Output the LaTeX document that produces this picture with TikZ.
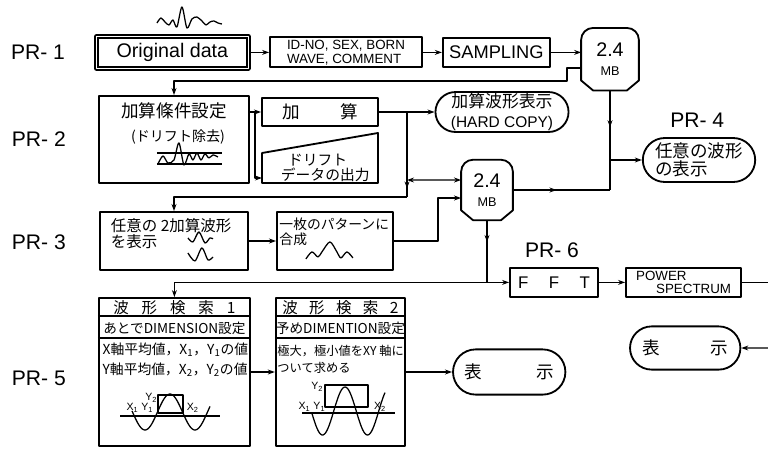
\documentclass[tikz,border=0pt]{standalone}
\usepackage{fontspec}
\setmainfont{Liberation Sans}
\newfontfamily\jp{Noto Sans CJK JP}
\usetikzlibrary{arrows.meta,shapes.misc,decorations.markings}

\newcommand\fsz[1]{\fontsize{#1}{#1}\selectfont}
\newcommand\diskshape[1]{%
    \draw[line width=1.3pt] ([yshift=0.25cm]#1.south west) -- ([yshift=-0.3cm]#1.north west)
        to[out=90,in=180] ([xshift=0.3cm]#1.north west) -- ([xshift=-0.3cm]#1.north east)
        to[out=0,in=90] ([yshift=-0.3cm]#1.north east) -- ([yshift=0.25cm]#1.south east)
        -- ([xshift=-0.3cm]#1.south east) -- ([xshift=0.3cm]#1.south west) -- cycle;}

\begin{document}
\begin{tikzpicture}[
        line join=round,
        box/.style={draw, line width=1.3pt, inner sep=1pt, align=center},
        termbox/.style={box, rounded rectangle, inner xsep=2pt},
        diskbox/.style={inner sep=0pt, align=center},
        prlabel/.style={font=\fsz{15}},
        smalllabel/.style={font=\fsz{7.5}, inner sep=0pt},
        line/.style={draw, line width=0.9pt},
        arrowline/.style={line, -{Stealth[length=5pt,width=3.5pt]}},
        bothline/.style={line, {Stealth[length=5pt,width=3.5pt]}-{Stealth[length=5pt,width=3.5pt]}},
        midarrow/.style={line, postaction={decorate},
            decoration={markings, mark=at position #1 with {\arrow{Stealth[length=5pt,width=3.5pt]}}}},
        midarrow/.default=0.5,
        wave/.style={line width=0.9pt, x=0.025cm, y=-0.025cm}
    ]
        \useasboundingbox (0,0) rectangle (19.2,-11.2);

        \node[prlabel] (pr1) at (0.95,-1.31) {PR- 1};
        \node[prlabel] (pr2) at (0.97,-3.48) {PR- 2};
        \node[prlabel] (pr3) at (0.97,-6.05) {PR- 3};
        \node[prlabel] (pr5) at (0.97,-9.45) {PR- 5};
        \node[prlabel] (pr4) at (17.43,-3.0) {PR- 4};
        \node[prlabel] (pr6) at (13.8,-6.25) {PR- 6};

        \node[box, double, double distance=1.2pt, line width=0.9pt, minimum width=3.8cm, minimum height=0.8cm, font=\fsz{14}] (orig) at (4.31,-1.31) {Original data};
        \draw[wave] plot[smooth] coordinates {(157,23) (161,18) (165,22) (169,25) (173,20) (177,27) (182,7) (187,28) (192,19) (197,17) (202,21) (206,25) (210,22) (214,21) (218,23) (222,24)};
        \node[box, minimum width=3.8cm, minimum height=0.75cm, align=left, font=\fontsize{9.5}{10}\selectfont] (idinfo) at (8.65,-1.31) {ID-NO, SEX, BORN\\WAVE, COMMENT};
        \node[box, minimum width=2.68cm, minimum height=0.73cm, font=\fsz{13}] (sampling) at (12.41,-1.31) {SAMPLING};
        \node[diskbox, minimum width=1.43cm, minimum height=1.55cm] (disk) at (15.25,-1.48) {{\fsz{14}2.4}\\[2pt]{\fsz{9}MB}};
        \diskshape{disk}

        \node[box, minimum width=3.75cm, minimum height=2.175cm] (cond) at (4.35,-3.4875) {};
        \node[font=\jp\fsz{12.5}] (condtitle) at (4.35,-2.78) {加算條件設定};
        \node[font=\jp\fsz{10}] (condsub) at (4.45,-3.42) {(ドリフト除去)};
        \draw[wave] (157,153) -- (222,153) (157,164) -- (222,164);
        \draw[wave] plot[smooth] coordinates {(158,164) (163,156) (168,163) (174,160) (179,143) (184,165) (189,154) (193,160) (197,153) (201,160) (205,154) (209,158) (213,155) (218,157)};

        \node[box, minimum width=2.9cm, minimum height=0.68cm, font=\jp\fsz{12.5}] (add) at (8.0,-2.8) {\makebox[1.9cm][s]{加 算}};
        \draw[line width=1.3pt] (6.55,-3.825) -- (9.45,-3.325) -- (9.45,-4.575) -- (6.55,-4.575) -- cycle;
        \node[anchor=west, align=left, font=\jp\fontsize{10.5}{11}\selectfont] (drift) at (6.9,-4.2) {\hspace{5pt}ドリフト\\データの出力};
        \node[termbox, minimum width=3.25cm, minimum height=0.95cm, font=\jp\fontsize{12}{14}\selectfont] (hardcopy) at (12.55,-2.8) {加算波形表示\\{\normalfont\fsz{11}(HARD COPY)}};

        \node[box, minimum width=3.7cm, minimum height=1.45cm] (anywave) at (4.35,-6.025) {};
        \node[anchor=west, align=left, font=\jp\fontsize{11}{11.5}\selectfont] (anytext) at (2.65,-5.84) {任意の 2加算波形\\を表示};
        \draw[wave] plot[smooth] coordinates {(188,238) (193,242) (199,232) (205,243) (210,238) (213,239)};
        \draw[wave] plot[smooth] coordinates {(188,253) (195,261) (202,248) (208,260) (213,257)};
        \node[box, minimum width=2.9cm, minimum height=1.45cm] (merge) at (8.375,-6.025) {};
        \node[anchor=west, align=left, inner sep=0pt, font=\jp\fontsize{9.8}{11}\selectfont] (mergetext) at (6.98,-5.79) {一枚のパターンに\\合成};
        \draw[wave] plot[smooth] coordinates {(306,259) (312,252) (318,257) (322,252) (330,242) (337,252) (341,258) (347,252) (353,258)};

        \node[diskbox, minimum width=1.28cm, minimum height=1.5cm] (disk2) at (12.175,-4.75) {{\fsz{14}2.4}\\[2pt]{\fsz{9}MB}};
        \diskshape{disk2}
        \node[termbox, minimum width=2.95cm, minimum height=1.1cm, align=left, font=\jp\fontsize{12.5}{12.5}\selectfont] (anyshow) at (17.475,-4.0) {任意の波形\\の表示};

        \node[box, minimum width=2.2cm, minimum height=0.73cm, font=\fsz{12}] (fft) at (13.85,-7.06) {\makebox[1.8cm][s]{F F T}};
        \node[box, minimum width=2.88cm, minimum height=0.73cm, align=left, font=\fontsize{9.5}{9.5}\selectfont] (spectrum) at (17.09,-7.06) {POWER\\\hspace*{0.5cm}SPECTRUM};
        \node[termbox, minimum width=2.9cm, minimum height=1.08cm, font=\jp\fsz{12.5}] (showspec) at (17.13,-8.7) {\makebox[2.15cm][s]{表 示}};

        \node[box, minimum width=3.78cm, minimum height=3.7cm] (search) at (4.36,-9.3) {};
        \draw[line width=1.3pt] ([yshift=-0.475cm]search.north west) -- ([yshift=-0.475cm]search.north east);
        \draw[line width=1.3pt] ([yshift=-1.025cm]search.north west) -- ([yshift=-1.025cm]search.north east);
        \node[font=\jp\fsz{11}] (searchhead) at (4.36,-7.69) {\makebox[3.05cm][s]{波 形 検 索 1}};
        \node[font=\jp\fsz{9.7}] (searchdim) at (4.36,-8.2) {あとでDIMENSION設定};
        \node[anchor=west, align=left, inner sep=0pt, font=\jp\fontsize{9.8}{14}\selectfont] (searchbody) at (2.56,-9.0) {X軸平均値，X\textsubscript{1}，Y\textsubscript{1}の値\\Y軸平均値，X\textsubscript{2}，Y\textsubscript{2}の値};
        \draw[line] (3.0,-10.4) -- (5.5,-10.4);
        \draw[line] (3.95,-9.875) rectangle (4.575,-10.325);
        \draw[line] plot[domain=3.3:5.25, samples=60, smooth] (\x, {-10.3+0.45*cos(deg(2*pi*(\x-4.25)/1.25))});
        \node[smalllabel] (searchy2) at (3.78,-9.95) {Y\textsubscript{2}};
        \node[smalllabel] (searchx1) at (3.5,-10.2) {X\textsubscript{1} Y\textsubscript{1}};
        \node[smalllabel] (searchx2) at (4.82,-10.2) {X\textsubscript{2}};

        \node[box, minimum width=3.23cm, minimum height=3.7cm] (presearch) at (8.51,-9.3) {};
        \draw[line width=1.3pt] ([yshift=-0.475cm]presearch.north west) -- ([yshift=-0.475cm]presearch.north east);
        \draw[line width=1.3pt] ([yshift=-1.025cm]presearch.north west) -- ([yshift=-1.025cm]presearch.north east);
        \node[font=\jp\fsz{11}] (presearchhead) at (8.51,-7.69) {\makebox[2.9cm][s]{波 形 検 索 2}};
        \node[font=\jp\fsz{9.7}] (presearchdim) at (8.51,-8.2) {予めDIMENTION設定};
        \node[anchor=west, align=left, inner sep=0pt, font=\jp\fontsize{8.7}{12.5}\selectfont] (presearchbody) at (6.93,-8.98) {極大，極小値をXY 軸に\\ついて求める};
        \draw[line] (7.55,-10.325) -- (9.875,-10.325);
        \draw[line] (8.125,-9.625) rectangle (9.2,-10.175);
        \draw[line] plot[domain=7.8:9.625, samples=60, smooth] (\x, {-10.275+0.6*cos(deg(2*pi*(\x-8.625)/1.125))});
        \node[smalllabel] (presearchy2) at (7.93,-9.68) {Y\textsubscript{2}};
        \node[smalllabel] (presearchx1) at (7.8,-10.18) {X\textsubscript{1} Y\textsubscript{1}};
        \node[smalllabel] (presearchx2) at (9.5,-10.18) {X\textsubscript{2}};

        \node[termbox, minimum width=2.95cm, minimum height=1.13cm, font=\jp\fsz{12.5}] (show) at (12.73,-9.3) {\makebox[2.25cm][s]{表 示}};

        \coordinate (fork) at (6.375,-2.8);
        \coordinate (driftin) at (6.55,-4.45);
        \coordinate (vtop) at (10.175,-2.8);
        \coordinate (vbot) at (10.175,-4.925);
        \coordinate (vmid) at (10.175,-4.5);
        \coordinate (joinr) at (15.25,-4.75);
        \coordinate (joinu) at (15.25,-4.0);
        \coordinate (joind) at (12.175,-7.06);
        \coordinate (edgeout) at (19.2,-7.06);
        \coordinate (edgein) at (19.2,-8.7);

        \draw[arrowline] (orig) -- (idinfo);
        \draw[arrowline] (idinfo) -- (sampling);
        \draw[arrowline] (sampling.east) -- (sampling.east -| disk.west);
        \draw[arrowline] ([yshift=-0.22cm]disk.west) -- ++(-0.35,0) |- ([yshift=0.35cm]cond.north) -- (cond.north);
        \draw[line] (cond.east |- fork) -- (fork);
        \draw[arrowline] (fork) -- (add.west);
        \draw[arrowline] (fork) |- (driftin);
        \draw[arrowline] (add) -- (hardcopy);
        \draw[midarrow=0.9] (vtop) -- (vbot);
        \draw[arrowline] (vbot) -| (anywave.north);
        \draw[arrowline] (anywave) -- (merge);
        \draw[bothline] (vmid) -- ([yshift=0.25cm]disk2.west);
        \draw[arrowline] (merge.east) -- ++(1.1,0) |- ([yshift=-0.2cm]disk2.west);
        \draw[midarrow=0.45] (disk2.east) -- (joinr);
        \draw[midarrow=0.37] (disk.south) -- (joinr);
        \draw[arrowline] (joinu) -- (anyshow);
        \draw[midarrow=0.35] (disk2.south) -- (joind);
        \draw[arrowline] (joind) -- (fft);
        \draw[arrowline] (joind) -| (search.north);
        \draw[arrowline] (fft) -- (spectrum);
        \draw[line] (spectrum) -- (edgeout);
        \draw[arrowline] (edgein) -- (showspec);
        \draw[arrowline] (search) -- (presearch);
        \draw[arrowline] (presearch) -- (show);
    \end{tikzpicture}
\end{document}
